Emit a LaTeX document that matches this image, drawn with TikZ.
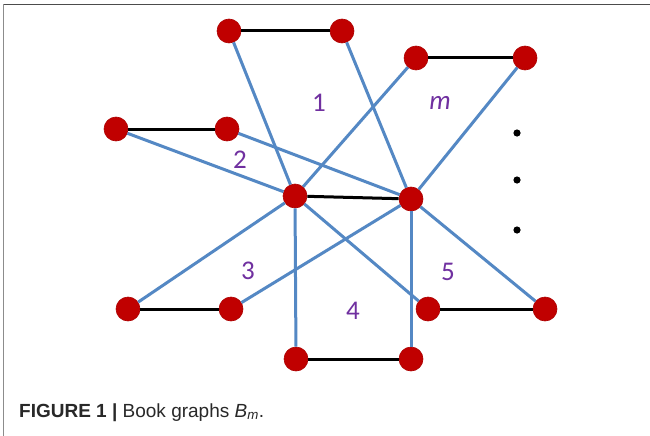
\documentclass[tikz,border=0pt]{standalone}
\usepackage{fontspec}
\setmainfont{Liberation Sans}
\newfontfamily\labelfont{Carlito}

\definecolor{vtxred}{RGB}{192,0,0}
\definecolor{edgeblue}{RGB}{84,136,196}
\definecolor{pagelbl}{RGB}{112,48,160}
\definecolor{capgray}{RGB}{40,40,40}

\tikzset{
    vtx/.style={circle,fill=vtxred,draw=vtxred!90!black,line width=0.6pt,
        minimum size=24pt,inner sep=0pt},
    spoke/.style={edgeblue,line width=3pt},
    rung/.style={black,line width=3pt},
    pagenum/.style={text=pagelbl,font=\labelfont\fontsize{27}{27}\selectfont},
}

\begin{document}
\begin{tikzpicture}[x=1pt,y=-1pt]
    \useasboundingbox (0,0) rectangle (650,436);
    \fill[white] (0,0) rectangle (650,436);
    \draw[black!70,line width=1.6pt] (3.5,4.5) -- (650,4.5);
    \draw[black!45,line width=1.6pt] (3.5,4.5) -- (3.5,436);

    % Spine of the book.
    \node[vtx] (s) at (295,196) {};
    \node[vtx] (t) at (411,199) {};
    \draw[rung] (s) -- (t);

    % Pages 1 to 5 and m.
    \node[vtx] (a1) at (229,31) {};
    \node[vtx] (a2) at (342,31) {};
    \node[vtx] (b1) at (416,58) {};
    \node[vtx] (b2) at (525,58) {};
    \node[vtx] (c1) at (116,129) {};
    \node[vtx] (c2) at (227,129) {};
    \node[vtx] (d1) at (128,309) {};
    \node[vtx] (d2) at (231,309) {};
    \node[vtx] (e1) at (428,309) {};
    \node[vtx] (e2) at (545,309) {};
    \node[vtx] (f1) at (296,359) {};
    \node[vtx] (f2) at (411,359) {};

    \foreach \p in {a,b,c,d,e,f} {
        \draw[rung] (\p1) -- (\p2);
        \draw[spoke] (\p1) -- (s);
        \draw[spoke] (\p2) -- (t);
    }

    \node[pagenum] (n1) at (319,103) {1};
    \node[pagenum] (nm) at (440,103) {\itshape m};
    \node[pagenum] (n2) at (240,160) {2};
    \node[pagenum] (n3) at (248,271) {3};
    \node[pagenum] (n4) at (353,311) {4};
    \node[pagenum] (n5) at (448,272) {5};

    % More pages.
    \foreach \y/\n in {133/1,180/2,230/3}
        \fill (517,\y) circle (3.6) coordinate (dot\n);

    \node[anchor=base west,inner sep=0pt,text=capgray,
        font=\fontsize{19}{22}\selectfont] (cap) at (19,417)
        {\textbf{FIGURE 1 |} Book graphs \textit{B}\textsubscript{\textit{m}}.};
\end{tikzpicture}
\end{document}
